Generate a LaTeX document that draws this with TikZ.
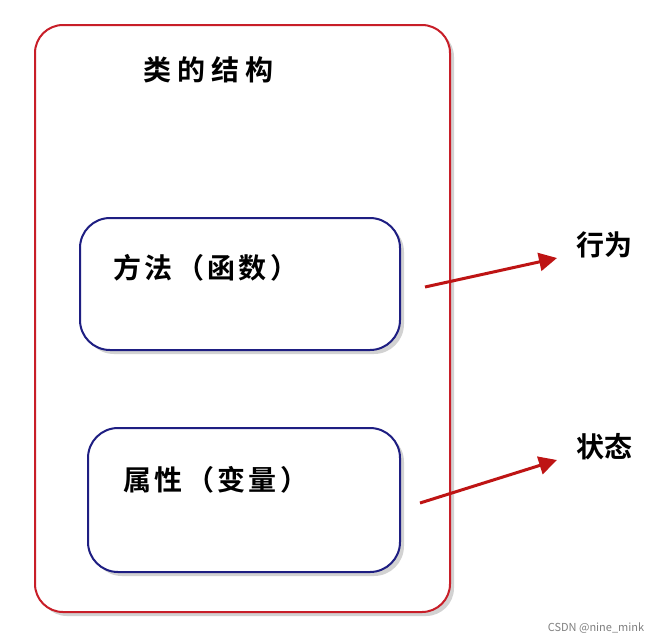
\documentclass[tikz,border=0pt]{standalone}
\usepackage{fontspec}
\setmainfont{Noto Sans CJK SC}[BoldFont={Noto Sans CJK SC Bold}]
\usetikzlibrary{shadows,arrows.meta}
\definecolor{boxred}{RGB}{200,30,40}
\definecolor{boxblue}{RGB}{30,30,130}
\definecolor{arrred}{RGB}{190,20,20}
\tikzset{
 outer/.style={draw=boxred,line width=2pt,rounded corners=28pt,fill=white,drop shadow={shadow xshift=4pt,shadow yshift=-4pt,opacity=0.35}},
 inner/.style={draw=boxblue,line width=2pt,rounded corners=30pt,fill=white,drop shadow={shadow xshift=4pt,shadow yshift=-4pt,opacity=0.35}},
 lbl/.style={font=\fontsize{28}{30}\selectfont\bfseries,text=black},
 tspaced/.style={font=\fontsize{28}{30}\selectfont\bfseries\addfontfeature{LetterSpace=22}},
 spaced/.style={font=\fontsize{28}{30}\selectfont\bfseries\addfontfeature{LetterSpace=12}},
 arr/.style={draw=arrred,line width=3pt,-{Triangle[length=18pt,width=18pt]}}
}
\begin{document}
\begin{tikzpicture}[x=1pt,y=-1pt]
\useasboundingbox[fill=white] (0,0) rectangle (671,643);
\draw[outer] (35,25) rectangle (450,612);
\draw[inner] (80,218) rectangle (400,350);
\draw[inner] (88,428) rectangle (400,572);
\node[lbl,tspaced,anchor=west] (title) at (140,70) {类的结构};
\node[lbl,spaced,anchor=west] (m) at (110,268) {方法（函数）};
\node[lbl,spaced,anchor=west] (p) at (120,480) {属性（变量）};
\node[lbl] (beh) at (604,245) {行为};
\node[lbl] (st) at (604,447) {状态};
\coordinate (a1) at (425,287);
\coordinate (b1) at (557,258);
\coordinate (a2) at (420,503);
\coordinate (b2) at (557,460);
\draw[arr] (a1) -- (b1);
\draw[arr] (a2) -- (b2);
\node[font=\fontsize{11}{13}\selectfont,text=gray] (wm) at (596,628) {CSDN @nine\_mink};
\end{tikzpicture}
\end{document}
